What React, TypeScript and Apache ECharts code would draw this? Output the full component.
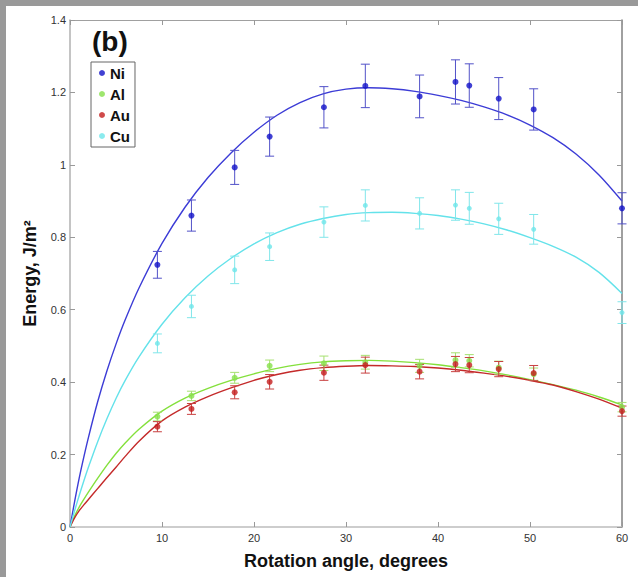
import React, { useEffect, useRef } from "react";
import * as echarts from "echarts";

// Measured angles (degrees)
const angles = [9.5, 13.2, 17.9, 21.7, 27.6, 32.1, 38.0, 41.9, 43.4, 46.6, 50.4, 60];

// Measured energies (J/m^2) and error half-widths
const niValues = [0.724, 0.86, 0.993, 1.078, 1.159, 1.218, 1.189, 1.229, 1.219, 1.183, 1.153, 0.88];
const niErrors = [0.037, 0.043, 0.047, 0.054, 0.057, 0.06, 0.059, 0.061, 0.06, 0.058, 0.057, 0.043];
const alValues = [0.305, 0.362, 0.412, 0.445, 0.452, 0.455, 0.445, 0.461, 0.459, 0.44, 0.422, 0.331];
const alErrors = [0.012, 0.013, 0.015, 0.016, 0.02, 0.019, 0.018, 0.02, 0.017, 0.018, 0.017, 0.013];
const auValues = [0.277, 0.326, 0.372, 0.401, 0.426, 0.447, 0.429, 0.45, 0.447, 0.436, 0.425, 0.32];
const auErrors = [0.014, 0.015, 0.018, 0.02, 0.021, 0.022, 0.02, 0.021, 0.021, 0.021, 0.021, 0.014];
const cuValues = [0.507, 0.609, 0.71, 0.774, 0.842, 0.888, 0.866, 0.889, 0.88, 0.851, 0.822, 0.592];
const cuErrors = [0.026, 0.031, 0.038, 0.038, 0.042, 0.043, 0.043, 0.042, 0.044, 0.043, 0.041, 0.03];

// Fitted curves
const curveAngles = [0, 0.5, 1, 1.5, 2, 3, 4, 5, 6, 7.5, 10, 12.5, 15, 17.5, 20, 22.5, 25, 27.5, 30, 32.5, 35, 37.5, 40, 42.5, 45, 47.5, 50, 52.5, 55, 57.5, 60];
const niCurve = [0, 0.07, 0.135, 0.193, 0.247, 0.345, 0.43, 0.505, 0.572, 0.66, 0.783, 0.883, 0.965, 1.033, 1.09, 1.137, 1.172, 1.196, 1.209, 1.213, 1.21, 1.203, 1.192, 1.178, 1.16, 1.138, 1.11, 1.075, 1.03, 0.972, 0.9];
const cuCurve = [0, 0.045, 0.087, 0.127, 0.165, 0.235, 0.298, 0.355, 0.405, 0.47, 0.56, 0.633, 0.693, 0.742, 0.782, 0.813, 0.836, 0.852, 0.863, 0.868, 0.869, 0.866, 0.86, 0.85, 0.837, 0.82, 0.799, 0.775, 0.745, 0.703, 0.645];
const alCurve = [0, 0.03, 0.055, 0.076, 0.096, 0.134, 0.17, 0.203, 0.232, 0.27, 0.32, 0.356, 0.383, 0.405, 0.423, 0.438, 0.449, 0.456, 0.459, 0.46, 0.458, 0.454, 0.448, 0.44, 0.431, 0.42, 0.407, 0.393, 0.378, 0.359, 0.337];
const auCurve = [0, 0.025, 0.045, 0.061, 0.076, 0.106, 0.136, 0.165, 0.195, 0.237, 0.293, 0.331, 0.36, 0.384, 0.405, 0.421, 0.433, 0.44, 0.444, 0.446, 0.445, 0.443, 0.439, 0.433, 0.425, 0.416, 0.405, 0.392, 0.374, 0.353, 0.328];

const xTicks = { min: 0, max: 60, interval: 10 };
const yTicks = { min: 0, max: 1.4, interval: 0.2 };

const FONT = "Liberation Sans, Arial, Helvetica, sans-serif";

type Metal = {
  name: string;
  values: number[];
  errors: number[];
  curve: number[];
  marker: string;
  line: string;
  err: string;
  size: number;
};

const metals: Metal[] = [
  { name: "Ni", values: niValues, errors: niErrors, curve: niCurve, marker: "#1212c8", line: "#3c3cd6", err: "#5252c8", size: 6 },
  { name: "Al", values: alValues, errors: alErrors, curve: alCurve, marker: "#86e04a", line: "#84e03c", err: "#a6e070", size: 6 },
  { name: "Au", values: auValues, errors: auErrors, curve: auCurve, marker: "#c41e1e", line: "#c42a2a", err: "#c84040", size: 6 },
  { name: "Cu", values: cuValues, errors: cuErrors, curve: cuCurve, marker: "#6ee6ea", line: "#64e2ea", err: "#80e6ea", size: 5 },
];

export default function App() {
  const ref = useRef<HTMLDivElement>(null);

  useEffect(() => {
    if (!ref.current) return;
    const chart = echarts.init(ref.current, undefined, { renderer: "svg" });

    const series: any[] = [];
    // fitted lines
    metals.forEach((m) => {
      series.push({
        name: m.name + " fit",
        type: "line",
        data: curveAngles.map((a, i) => [a, m.curve[i]]),
        showSymbol: false,
        smooth: 0.3,
        lineStyle: { color: m.line, width: 1.4 },
        itemStyle: { color: m.line },
        z: 2,
        silent: true,
      });
    });
    // error bars
    metals.forEach((m) => {
      series.push({
        name: m.name + " err",
        type: "custom",
        data: angles.map((a, i) => [a, m.values[i] - m.errors[i], m.values[i] + m.errors[i]]),
        encode: { x: 0, y: [1, 2] },
        renderItem: (params: any, api: any) => {
          const x = api.value(0);
          const lo = api.coord([x, api.value(1)]);
          const hi = api.coord([x, api.value(2)]);
          const w = 4.5;
          const st = { stroke: m.err, lineWidth: 1 };
          return {
            type: "group",
            children: [
              { type: "line", shape: { x1: lo[0], y1: lo[1], x2: hi[0], y2: hi[1] }, style: st },
              { type: "line", shape: { x1: hi[0] - w, y1: hi[1], x2: hi[0] + w, y2: hi[1] }, style: st },
              { type: "line", shape: { x1: lo[0] - w, y1: lo[1], x2: lo[0] + w, y2: lo[1] }, style: st },
            ],
          };
        },
        z: 3,
        silent: true,
      });
    });
    // points
    metals.forEach((m) => {
      series.push({
        name: m.name,
        type: "scatter",
        data: angles.map((a, i) => [a, m.values[i]]),
        symbol: "circle",
        symbolSize: m.size,
        itemStyle: { color: m.marker },
        z: 4,
      });
    });

    const axisCommonX = {
      type: "value",
      min: xTicks.min,
      max: xTicks.max,
      interval: xTicks.interval,
      splitLine: { show: false },
      axisTick: { inside: true, length: 5, lineStyle: { color: "#999", width: 1 } },
    };
    const axisCommonY = {
      type: "value",
      min: yTicks.min,
      max: yTicks.max,
      interval: yTicks.interval,
      splitLine: { show: false },
      axisTick: { inside: true, length: 5, lineStyle: { color: "#999", width: 1 } },
    };

    chart.setOption({
      animation: false,
      backgroundColor: "#ffffff",
      grid: { left: 70, top: 20, right: 16, bottom: 50, outerBoundsMode: "none" },
      xAxis: [
        {
          ...axisCommonX,
          position: "bottom",
          axisLine: { onZero: false, lineStyle: { color: "#bdbdbd", width: 1.5 } },
          axisLabel: { color: "#333", fontFamily: FONT, fontSize: 11, margin: 5 },
          name: "Rotation angle, degrees",
          nameLocation: "middle",
          nameGap: 25,
          nameTextStyle: { color: "#111", fontFamily: FONT, fontSize: 18, fontWeight: "bold" },
        },
        {
          ...axisCommonX,
          position: "top",
          axisLine: { onZero: false, lineStyle: { color: "#a0a0a0", width: 1 } },
          axisLabel: { show: false },
        },
      ],
      yAxis: [
        {
          ...axisCommonY,
          position: "left",
          axisLine: { show: true, onZero: false, lineStyle: { color: "#b0b0b0", width: 1.5 } },
          axisLabel: { color: "#333", fontFamily: FONT, fontSize: 11, margin: 4 },
          name: "Energy, J/m²",
          nameLocation: "middle",
          nameGap: 31,
          nameRotate: 90,
          nameTextStyle: { color: "#111", fontFamily: FONT, fontSize: 18, fontWeight: "bold" },
        },
        {
          ...axisCommonY,
          position: "right",
          axisLine: { show: true, onZero: false, lineStyle: { color: "#808080", width: 1.5 } },
          axisLabel: { show: false },
        },
      ],
      legend: {
        data: metals.map((m) => ({ name: m.name, icon: "circle" })),
        orient: "vertical",
        left: 91,
        top: 62,
        itemWidth: 6,
        itemHeight: 6,
        itemGap: 5,
        padding: [3, 5, 3, 8],
        borderColor: "#666",
        borderWidth: 1,
        backgroundColor: "#fff",
        selectedMode: false,
        textStyle: { color: "#111", fontFamily: FONT, fontSize: 15, fontWeight: "bold", lineHeight: 16 },
      },
      graphic: [
        { type: "rect", shape: { x: 0, y: 0, width: 638, height: 6 }, style: { fill: "#999999" }, silent: true },
        { type: "rect", shape: { x: 0, y: 0, width: 6, height: 577 }, style: { fill: "#999999" }, silent: true },
        {
          type: "text",
          x: 92,
          y: 27,
          style: { text: "(b)", fill: "#111", font: "bold 28px " + FONT, textVerticalAlign: "top" },
          silent: true,
        },
      ],
      series,
    });

    return () => chart.dispose();
  }, []);

  return (
    <div
      ref={ref}
      style={{ position: "fixed", left: 0, top: 0, width: 638, height: 577 }}
    />
  );
}
